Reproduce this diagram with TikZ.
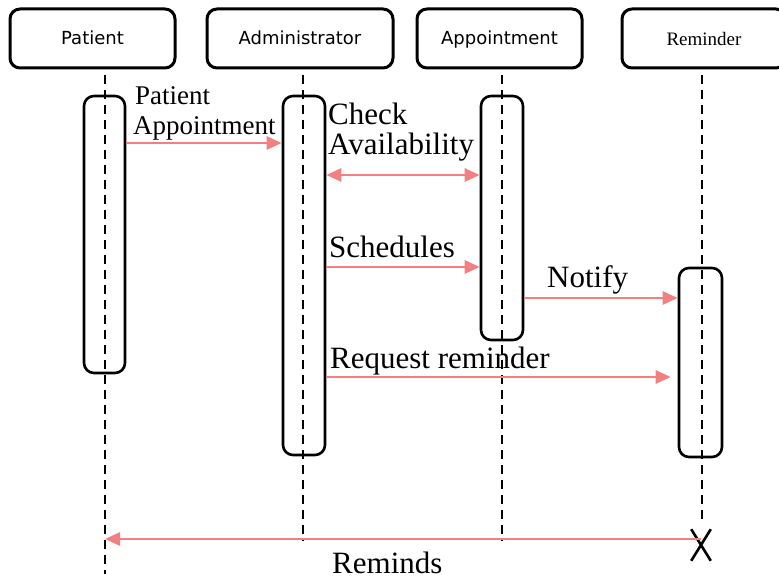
\documentclass[tikz,border=0pt]{standalone}
\usepackage{fontspec}
\setmainfont{Liberation Serif}
\newfontfamily\headfont{DejaVu Sans}
\usetikzlibrary{arrows.meta,shapes.misc}
\definecolor{msgred}{RGB}{242,128,128}

\begin{document}
\begin{tikzpicture}[x=1pt,y=-1pt,
  head/.style={draw, line width=3pt, rounded corners=10pt, minimum height=59pt,
    inner sep=0pt, text height=13pt, text depth=0pt},
  headsans/.style={head, font=\headfont\fontsize{18}{18}\selectfont},
  headserif/.style={head, font=\fontsize{19}{19}\selectfont, text height=14pt},
  act/.style={draw, line width=2.6pt, rounded corners=10pt, inner sep=0pt},
  life/.style={line width=2.6pt, dash pattern=on 9pt off 6pt},
  msg/.style={draw=msgred, line width=2.8pt, -{Triangle[length=15pt,width=13pt]}},
  msgboth/.style={msg, {Triangle[length=15pt,width=13pt]}-{Triangle[length=15pt,width=13pt]}},
  lbl/.style={anchor=base west, inner sep=0pt, font=\fontsize{31}{31}\selectfont},
  lblsmall/.style={lbl, font=\fontsize{27}{27}\selectfont},
]
\useasboundingbox (0,0) rectangle (779,580);
\clip (0,0) rectangle (779,580);

% object heads
\node[headsans, minimum width=165pt] (hP) at (92.5,38.5) {Patient};
\node[headsans, minimum width=186pt] (hA) at (300,38.5) {Administrator};
\node[headsans, minimum width=165pt] (hAp) at (499.5,38.5) {Appointment};
\node[headserif, minimum width=164pt] (hR) at (704,38.5) {Reminder};

% lifeline ends
\coordinate (tP) at (105,75);   \coordinate (bP) at (105,574);
\coordinate (tA) at (303,75);   \coordinate (bA) at (303,541);
\coordinate (tAp) at (502,75);  \coordinate (bAp) at (502,541);
\coordinate (tR) at (702,75);   \coordinate (bR) at (702,524);

\draw[life] (tP) -- (bP);
\draw[life] (tA) -- (bA);
\draw[life] (tAp) -- (bAp);
\draw[life] (tR) -- (bR);

% activation bars
\node[act, minimum width=41pt, minimum height=277pt] (aP) at (104.5,234.5) {};
\node[act, minimum width=42pt, minimum height=359pt] (aA) at (304,275.5) {};
\node[act, minimum width=42pt, minimum height=244pt] (aAp) at (502,218) {};
\node[act, minimum width=43pt, minimum height=189pt] (aR) at (700.5,362.5) {};

% destruction mark
\node[draw, cross out, line width=2.6pt, minimum width=17pt, minimum height=29pt, inner sep=0pt] (xR) at (701,545) {};

% message levels
\coordinate (m1) at (0,143);
\coordinate (m2) at (0,175);
\coordinate (m3) at (0,267);
\coordinate (m4) at (0,298);
\coordinate (m5) at (0,377);
\coordinate (m6) at (0,539);

\draw[msg] (aP.east |- m1) -- (aA.west |- m1);
\draw[msgboth] (aA.east |- m2) -- (aAp.west |- m2);
\draw[msg] (aA.east |- m3) -- (aAp.west |- m3);
\draw[msg] (aAp.east |- m4) -- (aR.west |- m4);
\draw[msg, shorten >=7pt] (aA.east |- m5) -- (aR.west |- m5);
\draw[msg] (xR.center |- m6) -- (tP |- m6);

% message labels
\node[lblsmall] (l1a) at (135,105) {Patient};
\node[lblsmall] (l1b) at (133,135) {Appointment};
\node[lbl] (l2a) at (328,125) {Check};
\node[lbl] (l2b) at (328,155) {Availability};
\node[lbl] (l3) at (329,257) {Schedules};
\node[lbl] (l4) at (547,287) {Notify};
\node[lbl] (l5) at (330,368) {Request reminder};
\node[lbl] (l6) at (332,573) {Reminds};
\end{tikzpicture}
\end{document}
